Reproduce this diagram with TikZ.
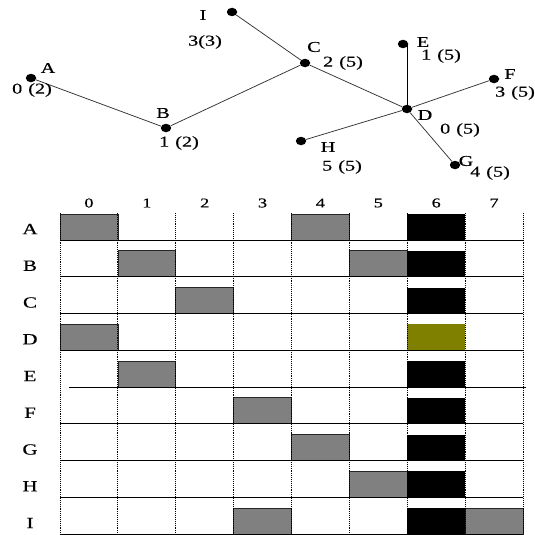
\documentclass[tikz,border=0pt]{standalone}
\usetikzlibrary{shapes.geometric}
\usepackage{fontspec}
\setmainfont[FakeStretch=1.35,FakeBold=0.4]{Liberation Serif}
\begin{document}
\begin{tikzpicture}[x=1pt,y=-1pt,
  dot/.style={ellipse,fill=black,inner sep=0pt,minimum width=10.5pt,minimum height=8.5pt},
  lbl/.style={font=\fontsize{15}{15}\selectfont,inner sep=0pt},
  edge/.style={draw=black!80,line width=0.75pt},
  cell/.style={draw=black!85,line width=0.6pt,fill=black!50},
  blk/.style={fill=black},
  olv/.style={fill={rgb,255:red,128;green,128;blue,0}},
  vline/.style={densely dotted,line width=0.9pt},
  hline/.style={line width=0.8pt},
  axlbl/.style={font=\fontsize{13.5}{14}\selectfont,inner sep=0pt},
  rowlbl/.style={font=\fontsize{15.5}{16}\selectfont,inner sep=0pt}]
\useasboundingbox (0,0) rectangle (535,535);
% ---------------- graph ----------------
\node[dot] (A) at (31,78) {};
\node[dot] (B) at (166,128) {};
\node[dot] (I) at (232,12) {};
\node[dot] (C) at (305,63) {};
\node[dot] (E) at (403,44) {};
\node[dot] (F) at (494,79) {};
\node[dot] (D) at (407,109) {};
\node[dot] (H) at (301,141) {};
\node[dot] (G) at (455,165) {};
\draw[edge] (A) -- (B);
\draw[edge] (B) -- (C);
\draw[edge] (I) -- (C);
\draw[edge] (C) -- (D);
\draw[edge,draw=black,line width=0.9pt] (D) -- (D |- E);
\draw[edge] (F) -- (D);
\draw[edge] (H) -- (D);
\draw[edge] (G) -- (D);
\newcommand{\gp}{\hspace{6pt}}
\node[lbl] (lA) at (48,68) {A};
\node[lbl] (nA) at (32,90) {0\gp(2)};
\node[lbl] (lB) at (163,113) {B};
\node[lbl] (nB) at (179,143) {1\gp(2)};
\node[lbl] (lI) at (203,15) {I};
\node[lbl] (nI) at (205,42) {3(3)};
\node[lbl] (lC) at (314,47) {C};
\node[lbl] (nC) at (343,63) {2\gp(5)};
\node[lbl] (lE) at (423,42) {E};
\node[lbl] (nE) at (441,56) {1\gp(5)};
\node[lbl] (lF) at (510,74) {F};
\node[lbl] (nF) at (515,93) {3\gp(5)};
\node[lbl] (lD) at (425,115) {D};
\node[lbl] (nD) at (460,130) {0\gp(5)};
\node[lbl] (lH) at (328,147) {H};
\node[lbl] (nH) at (342,167) {5\gp(5)};
\node[lbl] (lG) at (466,161) {G};
\node[lbl] (nG) at (490,173) {4\gp(5)};
% ---------------- chart ----------------
\def\cw{57.875}
\def\rh{36.75}
\foreach \r/\c in {0/0,0/4,1/1,1/5,2/2,3/0,4/1,5/3,6/4,7/5,8/3,8/7}{
  \path[cell] (60+\cw*\c,240+\rh*\r-26) rectangle ++(\cw,26);
}
\foreach \r in {0,1,2,4,5,6,7,8}{
  \path[blk] (60+\cw*6,240+\rh*\r-26) rectangle ++(\cw,26);
}
\path[olv] (60+\cw*6,240+\rh*3-26) rectangle ++(\cw,26);
\foreach \c in {0,...,8}{
  \draw[vline] (60+\cw*\c,213) -- (60+\cw*\c,534);
}
\foreach \r in {0,1,2,3,5,6,7,8}{
  \draw[hline] (60,240+\rh*\r) -- (523,240+\rh*\r);
}
\draw[hline] (69,240+\rh*4) -- (526,240+\rh*4);
\foreach \c in {0,...,7}{
  \node[axlbl] (col\c) at (60+\cw*\c+\cw/2,203) {\c};
}
\foreach \l [count=\i from 0] in {A,B,C,D,E,F,G,H,I}{
  \node[rowlbl] (row\l) at (30,240+\rh*\i-11) {\l};
}
\end{tikzpicture}
\end{document}
